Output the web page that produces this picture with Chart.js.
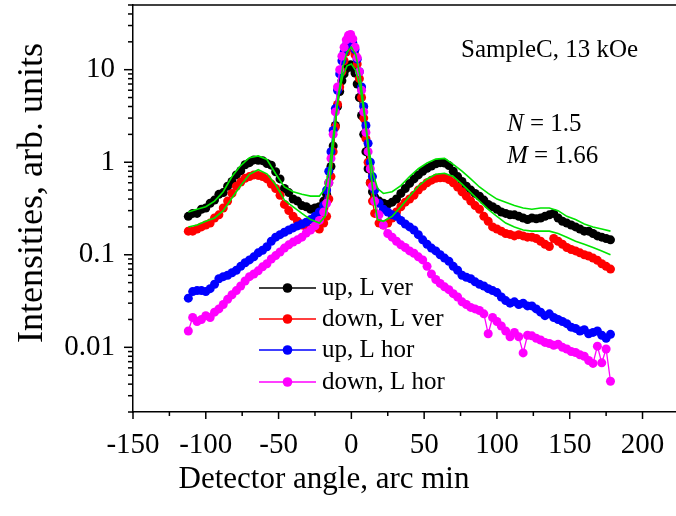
<!DOCTYPE html>
<html><head><meta charset="utf-8">
<script src="https://cdn.jsdelivr.net/npm/chart.js@4/dist/chart.umd.min.js"></script>
<style>html,body{margin:0;padding:0;background:#fff}canvas{display:block}</style>
</head><body>
<canvas id="c" width="676" height="516"></canvas>
<script>
const angle = [-112,-109,-106,-103,-100,-97,-94,-91,-88,-85,-82,-79,-76,-73,-70,-67,-64,-61,-58,-55,-52,-49,-46,-43,-40,-37,-34,-31,-28,-25,-22,-19,
-17,-15.5,-14,-12.5,-11,-9.5,-8,-6.5,-5,-3.5,-2,-0.5,1,2.5,4,5.5,7,8.5,10,11.5,13,14.5,16,
19,22,25,28,31,34,37,40,43,46,49,52,55,58,61,64,67,70,73,76,79,82,85,88,91,94,97,100,103,106,109,112,115,118,121,124,127,130,133,136,139,142,145,148,151,154,157,160,163,166,169,172,175,178];

const upLVer = [0.26,0.28,0.28,0.31,0.32,0.36,0.39,0.45,0.47,0.55,0.62,0.73,0.81,0.94,0.99,1.06,1.05,1.04,0.97,0.93,0.79,0.66,0.52,0.47,0.40,0.38,0.34,0.33,0.31,0.32,0.33,0.38,
0.45,0.6,0.9,1.5,2.5,4.0,5.8,7.6,9.0,10.2,11.0,11.3,10.5,9.2,7.0,5.0,3.2,2.0,1.3,0.85,0.6,0.48,0.42,
0.38,0.36,0.35,0.37,0.40,0.46,0.52,0.59,0.66,0.73,0.80,0.86,0.91,0.96,0.99,0.98,0.92,0.80,0.70,0.62,0.55,0.50,0.46,0.43,0.39,0.35,0.33,0.31,0.29,0.28,0.27,0.27,0.26,0.25,0.24,0.25,0.245,0.25,0.26,0.27,0.28,0.25,0.23,0.22,0.21,0.20,0.19,0.18,0.18,0.17,0.16,0.155,0.15,0.145];

const downLVer = [0.18,0.18,0.19,0.20,0.21,0.22,0.25,0.27,0.32,0.38,0.46,0.55,0.61,0.67,0.70,0.73,0.72,0.70,0.66,0.58,0.52,0.44,0.35,0.30,0.26,0.23,0.21,0.20,0.19,0.20,0.19,0.22,
0.26,0.4,0.7,1.3,2.4,4.2,6.5,9.5,12.5,15.5,17.5,18.5,17,14.5,11.5,8.0,5.0,3.0,1.8,1.0,0.6,0.38,0.28,
0.22,0.21,0.22,0.25,0.29,0.33,0.37,0.40,0.44,0.50,0.55,0.60,0.64,0.67,0.68,0.68,0.65,0.60,0.54,0.48,0.43,0.38,0.34,0.31,0.26,0.23,0.20,0.19,0.18,0.17,0.166,0.16,0.165,0.16,0.155,0.155,0.15,0.14,0.13,0.123,0.15,0.14,0.13,0.12,0.114,0.11,0.105,0.10,0.097,0.092,0.087,0.08,0.075,0.07];

const upLHor = [0.034,0.040,0.041,0.041,0.040,0.043,0.048,0.055,0.058,0.060,0.064,0.068,0.075,0.082,0.088,0.095,0.105,0.112,0.122,0.14,0.155,0.165,0.175,0.185,0.195,0.205,0.215,0.225,0.24,0.26,0.29,0.34,
0.5,0.8,1.3,2.2,3.8,6.0,9.0,12.5,15.5,18.5,20.5,21,19.5,16.5,13,9.5,6.5,4.0,2.5,1.6,1.0,0.7,0.5,
0.36,0.31,0.29,0.27,0.26,0.235,0.215,0.20,0.185,0.165,0.145,0.13,0.118,0.11,0.10,0.092,0.085,0.075,0.068,0.06,0.057,0.055,0.051,0.048,0.046,0.043,0.041,0.039,0.035,0.032,0.030,0.031,0.029,0.030,0.028,0.028,0.026,0.024,0.022,0.023,0.021,0.020,0.019,0.018,0.0165,0.016,0.015,0.0155,0.014,0.0145,0.015,0.0135,0.0125,0.0138];

const downLHor = [0.015,0.021,0.019,0.020,0.022,0.021,0.024,0.026,0.029,0.033,0.037,0.041,0.046,0.052,0.058,0.062,0.067,0.074,0.080,0.090,0.098,0.107,0.118,0.128,0.137,0.145,0.155,0.172,0.185,0.205,0.235,0.29,
0.36,0.6,1.1,2.0,3.5,6.5,10,14,17.5,21,23.5,24,21.5,17.5,13.5,9.5,6.0,3.5,2.1,1.3,0.85,0.55,0.38,
0.27,0.21,0.17,0.155,0.14,0.128,0.12,0.11,0.104,0.095,0.088,0.075,0.062,0.054,0.049,0.045,0.042,0.038,0.035,0.031,0.029,0.027,0.026,0.025,0.023,0.014,0.021,0.019,0.017,0.015,0.013,0.0145,0.013,0.0087,0.0135,0.0133,0.0125,0.012,0.0113,0.011,0.0105,0.0108,0.010,0.0096,0.009,0.0088,0.0083,0.008,0.0072,0.0067,0.0103,0.0068,0.0096,0.0043];

const fitAngle = [-112,-106,-100,-94,-88,-82,-76,-70,-64,-58,-52,-46,-40,-34,-28,-22,
-18,-15,-12,-9,-6,-3,0,3,6,9,12,15,18,
22,28,34,40,46,52,58,64,70,76,82,88,94,100,106,112,118,124,130,136,142,148,154,160,166,172,178];

const fitUpLVer = [0.29,0.31,0.33,0.38,0.48,0.70,0.92,1.12,1.17,1.07,0.75,0.54,0.48,0.45,0.43,0.43,
0.52,0.9,2.2,5.0,8.5,11.0,11.5,9.8,6.5,3.2,1.4,0.75,0.52,
0.46,0.48,0.56,0.70,0.85,0.98,1.08,1.10,0.95,0.80,0.66,0.54,0.46,0.40,0.37,0.34,0.32,0.31,0.32,0.32,0.30,0.26,0.24,0.215,0.20,0.19,0.18];

const fitDownLVer = [0.20,0.21,0.23,0.25,0.30,0.41,0.56,0.74,0.83,0.75,0.57,0.39,0.33,0.28,0.24,0.22,
0.26,0.55,1.8,5.2,10.5,15.5,17.5,14.5,8.5,3.5,1.2,0.45,0.24,
0.23,0.26,0.33,0.43,0.55,0.66,0.74,0.76,0.70,0.58,0.47,0.38,0.31,0.26,0.22,0.20,0.185,0.18,0.18,0.18,0.17,0.155,0.14,0.13,0.12,0.11,0.10];

const seriesNames = ['up, L ver','down, L ver','up, L hor','down, L hor'];
const seriesColors = ['#000000','#ff0000','#0000ff','#ff00ff'];
const xTickLabels = [-150,-100,-50,0,50,100,150,200];
const yTickLabels = [0.01,0.1,1,10];
const FONT = "'Liberation Serif','Times New Roman',serif";
const GREEN = '#00e400';

const pts = (xs, ys) => xs.map((x, i) => ({ x: x, y: ys[i] }));
const seriesData = [upLVer, downLVer, upLHor, downLHor];

const datasets = [];
seriesData.forEach((ys, i) => {
  datasets.push({
    label: seriesNames[i], data: pts(angle, ys),
    borderColor: seriesColors[i], backgroundColor: seriesColors[i],
    borderWidth: 1.3, pointRadius: 4.5, pointBorderWidth: 0,
    pointBackgroundColor: seriesColors[i], tension: 0, order: 4 - i + 1
  });
});
datasets.push({ label: 'fit up', data: pts(fitAngle, fitUpLVer), borderColor: GREEN, borderWidth: 1.6, pointRadius: 0, tension: 0, order: 0 });
datasets.push({ label: 'fit down', data: pts(fitAngle, fitDownLVer), borderColor: GREEN, borderWidth: 1.6, pointRadius: 0, tension: 0, order: 0 });

const decoPlugin = {
  id: 'deco',
  afterDraw(chart) {
    const ctx = chart.ctx, ca = chart.chartArea;
    const xs = chart.scales.x, ys = chart.scales.y;
    ctx.save();
    ctx.strokeStyle = '#000'; ctx.lineWidth = 1.5;
    ctx.beginPath(); ctx.moveTo(ca.left, ca.top); ctx.lineTo(ca.right, ca.top); ctx.stroke();
    for (let v = -150; v <= 200; v += 25) {
      const px = xs.getPixelForValue(v);
      const len = (v % 50 === 0) ? 7 : 4;
      ctx.beginPath(); ctx.moveTo(px, ca.bottom); ctx.lineTo(px, ca.bottom + len); ctx.stroke();
    }
    [0.001, 0.01, 0.1, 1, 10].forEach(d => {
      for (let m = 1; m <= 9; m++) {
        const v = d * m;
        if (v < ys.min * 0.999 || v > ys.max * 1.001) continue;
        const py = ys.getPixelForValue(v);
        const len = m === 1 ? 9 : 5;
        ctx.beginPath(); ctx.moveTo(ca.left, py); ctx.lineTo(ca.left - len, py); ctx.stroke();
      }
    });
    ctx.fillStyle = '#000';
    ctx.font = '31px ' + FONT; ctx.textAlign = 'center'; ctx.textBaseline = 'alphabetic';
    ctx.fillText('Detector angle, arc min', 324, 488);
    ctx.save();
    ctx.translate(42, 193); ctx.rotate(-Math.PI / 2);
    ctx.font = '36px ' + FONT;
    ctx.fillText('Intensities, arb. units', 0, 0);
    ctx.restore();
    ctx.textAlign = 'left';
    ctx.font = '25px ' + FONT;
    ctx.fillText('SampleC, 13 kOe', 461, 57);
    const drawEq = (sym, rest, x, y) => {
      ctx.font = 'italic 25px ' + FONT;
      ctx.fillText(sym, x, y);
      const w = ctx.measureText(sym).width;
      ctx.font = '25px ' + FONT;
      ctx.fillText(rest, x + w, y);
    };
    drawEq('N', ' = 1.5', 507, 131);
    drawEq('M', ' = 1.66', 507, 163);
    const ly = [288, 319, 350, 382];
    seriesNames.forEach((name, i) => {
      const y = ly[i];
      ctx.strokeStyle = seriesColors[i]; ctx.lineWidth = 1.5;
      ctx.beginPath(); ctx.moveTo(259, y); ctx.lineTo(316, y); ctx.stroke();
      ctx.fillStyle = seriesColors[i];
      ctx.beginPath(); ctx.arc(287.5, y, 4.8, 0, Math.PI * 2); ctx.fill();
      ctx.fillStyle = '#000'; ctx.font = '25px ' + FONT; ctx.textBaseline = 'middle';
      ctx.fillText(name, 322, y);
    });
    ctx.restore();
  }
};

const noPad = s => { s.paddingTop = 0; s.paddingBottom = 0; s.paddingLeft = 0; s.paddingRight = 0; };

new Chart(document.getElementById('c').getContext('2d'), {
  type: 'line',
  data: { datasets: datasets },
  options: {
    responsive: false, animation: false, devicePixelRatio: 1,
    layout: { autoPadding: false, padding: { top: 5, right: 0, bottom: 0, left: 0 } },
    plugins: { legend: { display: false }, tooltip: { enabled: false } },
    scales: {
      x: {
        type: 'linear', min: -150, max: 223,
        afterBuildTicks: s => { s.ticks = xTickLabels.map(v => ({ value: v })); },
        afterFit: s => { s.height = 104; noPad(s); },
        grid: { display: false, drawTicks: false },
        border: { display: true, color: '#000', width: 1.5 },
        ticks: { padding: 16, color: '#000', font: { family: FONT, size: 29 }, maxRotation: 0, autoSkip: false, callback: v => String(v) }
      },
      y: {
        type: 'logarithmic', min: 0.002, max: 50,
        afterBuildTicks: s => { s.ticks = yTickLabels.map(v => ({ value: v })); },
        afterFit: s => { s.width = 133; noPad(s); },
        grid: { display: false, drawTicks: false },
        border: { display: true, color: '#000', width: 1.5 },
        ticks: { padding: 18, color: '#000', font: { family: FONT, size: 29 }, autoSkip: false, callback: v => String(v) }
      }
    }
  },
  plugins: [decoPlugin]
});
</script></body></html>
